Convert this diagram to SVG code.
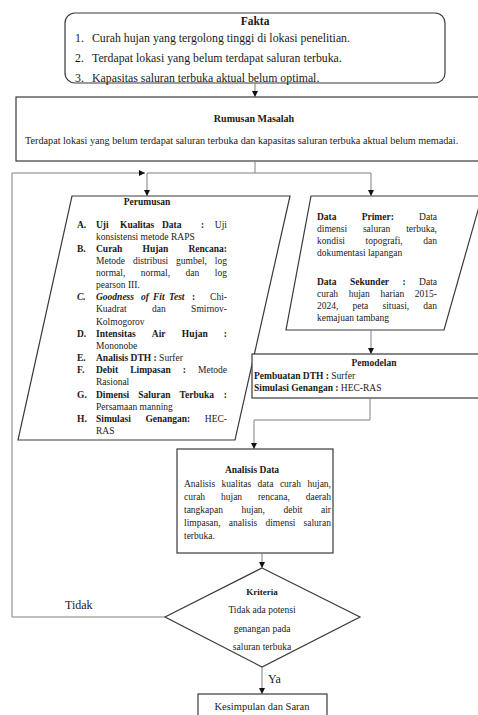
<svg xmlns="http://www.w3.org/2000/svg" width="478" height="715" viewBox="0 0 478 715">
<style>
.t{font-family:'Liberation Serif','Times New Roman',serif;fill:#1a1a1a;font-size:9.5px}
.b{font-weight:bold}
.bi{font-weight:bold;font-style:italic}
.c{text-anchor:middle}
.e{text-anchor:end}
.box{fill:#fff;stroke:#3a3a3a;stroke-width:1.2}
.conn{fill:none;stroke:#808080;stroke-width:1}
</style>
<defs>
<marker id="ah" markerWidth="6" markerHeight="6" refX="6" refY="3" orient="auto" markerUnits="userSpaceOnUse">
<path d="M0,0 L6,3 L0,6 z" fill="#111"/>
</marker>
</defs>
<rect width="478" height="715" fill="#fff"/>

<g id="fakta">
<rect class="box" x="65" y="13" width="380" height="70" rx="10"/>
<text class="t b c" x="255" y="25" style="font-size:11.5px">Fakta</text>
<text class="t" x="75" y="42" style="font-size:11.8px">1.</text>
<text class="t" x="92" y="42" style="font-size:11.8px">Curah hujan yang tergolong tinggi di lokasi penelitian.</text>
<text class="t" x="75" y="62" style="font-size:11.8px">2.</text>
<text class="t" x="92" y="62" style="font-size:11.8px">Terdapat lokasi yang belum terdapat saluran terbuka.</text>
<text class="t" x="75" y="82" style="font-size:11.8px">3.</text>
<text class="t" x="92" y="82" style="font-size:11.8px">Kapasitas saluran terbuka aktual belum optimal.</text>
</g>

<g id="rumusan">
<rect class="box" x="16" y="97" width="470" height="64"/>
<text class="t b c" x="254" y="122" style="font-size:10px">Rumusan Masalah</text>
<text class="t" x="25" y="144" style="font-size:10.2px">Terdapat lokasi yang belum terdapat saluran terbuka dan kapasitas saluran terbuka aktual belum memadai.</text>
</g>

<g id="perumusan">
<polygon class="box" points="72,196 290,196 235,440 18,440"/>
<text class="t b c" x="147" y="205">Perumusan</text>
<text class="t b" y="228"><tspan x="77">A.</tspan><tspan x="96">Uji</tspan><tspan x="120">Kualitas</tspan><tspan x="162">Data</tspan><tspan x="201">:</tspan></text>
<text class="t e" x="227" y="228">Uji</text>
<text class="t" x="96" y="240">konsistensi metode RAPS</text>
<text class="t b" y="251.5"><tspan x="77">B.</tspan><tspan x="96">Curah</tspan><tspan x="142.5">Hujan</tspan></text>
<text class="t b e" x="227" y="251.5">Rencana:</text>
<text class="t" y="263.5"><tspan x="96">Metode</tspan><tspan x="132.9">distribusi</tspan><tspan x="176.1">gumbel,</tspan></text>
<text class="t e" x="227" y="263.5">log</text>
<text class="t" y="275.5"><tspan x="96">normal,</tspan><tspan x="140.8">normal,</tspan><tspan x="185.6">dan</tspan></text>
<text class="t e" x="227" y="275.5">log</text>
<text class="t" x="96" y="287.5">pearson III.</text>
<text class="t bi" y="300"><tspan x="77">C.</tspan><tspan x="96">Goodness</tspan><tspan x="141">of</tspan><tspan x="153">Fit</tspan><tspan x="169">Test</tspan></text>
<text class="t b" x="192" y="300">:</text>
<text class="t e" x="227" y="300">Chi-</text>
<text class="t" y="312"><tspan x="96">Kuadrat</tspan><tspan x="152">dan</tspan></text>
<text class="t e" x="227" y="312">Smirnov-</text>
<text class="t" x="96" y="324.5">Kolmogorov</text>
<text class="t b" y="336.5"><tspan x="77">D.</tspan><tspan x="96">Intensitas</tspan><tspan x="151.8">Air</tspan><tspan x="181.8">Hujan</tspan></text>
<text class="t b e" x="227" y="336.5">:</text>
<text class="t" x="96" y="349">Mononobe</text>
<text class="t" y="361"><tspan class="b" x="77">E.</tspan><tspan class="b" x="96">Analisis DTH :</tspan><tspan> Surfer</tspan></text>
<text class="t b" y="373"><tspan x="77">F.</tspan><tspan x="96">Debit</tspan><tspan x="130.2">Limpasan</tspan><tspan x="182.8">:</tspan></text>
<text class="t e" x="227" y="373">Metode</text>
<text class="t" x="96" y="385">Rasional</text>
<text class="t b" y="397.5"><tspan x="77">G.</tspan><tspan x="96">Dimensi</tspan><tspan x="138.3">Saluran</tspan><tspan x="179.5">Terbuka</tspan></text>
<text class="t b e" x="227" y="397.5">:</text>
<text class="t" x="96" y="409.5">Persamaan manning</text>
<text class="t b" y="422"><tspan x="77">H.</tspan><tspan x="96">Simulasi</tspan><tspan x="145.4">Genangan:</tspan></text>
<text class="t e" x="227" y="422">HEC-</text>
<text class="t" x="96" y="434">RAS</text>
</g>

<g id="data">
<polygon class="box" points="311,196 482,196 444,330 286,330"/>
<text class="t b" y="220"><tspan x="317">Data</tspan><tspan x="361.7">Primer:</tspan></text>
<text class="t e" x="437" y="220">Data</text>
<text class="t" y="232"><tspan x="317">dimensi</tspan><tspan x="362.9">saluran</tspan></text>
<text class="t e" x="437" y="232">terbuka,</text>
<text class="t" y="244"><tspan x="317">kondisi</tspan><tspan x="365.5">topografi,</tspan></text>
<text class="t e" x="437" y="244">dan</text>
<text class="t" x="317" y="256">dokumentasi lapangan</text>
<text class="t b" y="285"><tspan x="317">Data</tspan><tspan x="350">Sekunder</tspan><tspan x="402.5">:</tspan></text>
<text class="t e" x="437" y="285">Data</text>
<text class="t" y="297"><tspan x="317">curah</tspan><tspan x="348.7">hujan</tspan><tspan x="380.5">harian</tspan></text>
<text class="t e" x="437" y="297">2015-</text>
<text class="t" y="309"><tspan x="317">2024,</tspan><tspan x="352.5">peta</tspan><tspan x="382.5">situasi,</tspan></text>
<text class="t e" x="437" y="309">dan</text>
<text class="t" x="317" y="321">kemajuan tambang</text>
</g>

<g id="pemodelan">
<rect class="box" x="252" y="354" width="240" height="44"/>
<text class="t b c" x="374" y="366">Pemodelan</text>
<text class="t" x="254" y="379"><tspan class="b">Pembuatan DTH :</tspan> Surfer</text>
<text class="t" x="254" y="391"><tspan class="b">Simulasi Genangan :</tspan> HEC-RAS</text>
</g>

<g id="analisis">
<rect class="box" x="177" y="449" width="156" height="104"/>
<text class="t b c" x="252" y="473">Analisis Data</text>
<text class="t" y="487"><tspan x="184">Analisis</tspan><tspan x="221.6">kualitas</tspan><tspan x="257.6">data</tspan><tspan x="279.9">curah</tspan></text>
<text class="t e" x="331" y="487">hujan,</text>
<text class="t" y="500"><tspan x="184">curah</tspan><tspan x="221">hujan</tspan><tspan x="257.9">rencana,</tspan></text>
<text class="t e" x="331" y="500">daerah</text>
<text class="t" y="513"><tspan x="184">tangkapan</tspan><tspan x="241.5">hujan,</tspan><tspan x="283.5">debit</tspan></text>
<text class="t e" x="331" y="513">air</text>
<text class="t" y="526"><tspan x="184">limpasan,</tspan><tspan x="228.8">analisis</tspan><tspan x="265.4">dimensi</tspan></text>
<text class="t e" x="331" y="526">saluran</text>
<text class="t" x="184" y="539">terbuka.</text>
</g>

<g id="kriteria">
<polygon class="box" points="262,568 360,617 262,667 165,617"/>
<text class="t b c" x="262" y="595" style="font-size:9px">Kriteria</text>
<text class="t c" x="262" y="613" style="font-size:9.5px">Tidak ada potensi</text>
<text class="t c" x="262" y="632" style="font-size:9.5px">genangan pada</text>
<text class="t c" x="262" y="650" style="font-size:9.5px">saluran terbuka</text>
</g>

<g id="kesimpulan">
<rect class="box" x="198" y="694" width="129" height="30"/>
<text class="t c" x="262" y="710" style="font-size:10.5px">Kesimpulan dan Saran</text>
</g>

<g id="connectors">
<path class="conn" d="M255,83 V97" marker-end="url(#ah)"/>
<path class="conn" d="M255,161 V173 H371 V196" marker-end="url(#ah)"/>
<path class="conn" d="M255,173 H147 V196" marker-end="url(#ah)"/>
<path class="conn" d="M165,617 H12 V173 H145" marker-end="url(#ah)"/>
<path class="conn" d="M371,330 V354" marker-end="url(#ah)"/>
<path class="conn" d="M370,398 V420 H254 V449" marker-end="url(#ah)"/>
<path class="conn" d="M262,553 V568" marker-end="url(#ah)"/>
<path class="conn" d="M262,667 V694" marker-end="url(#ah)"/>
<text class="t" x="65" y="609" style="font-size:12px">Tidak</text>
<text class="t" x="268" y="683" style="font-size:12px">Ya</text>
</g>
</svg>
